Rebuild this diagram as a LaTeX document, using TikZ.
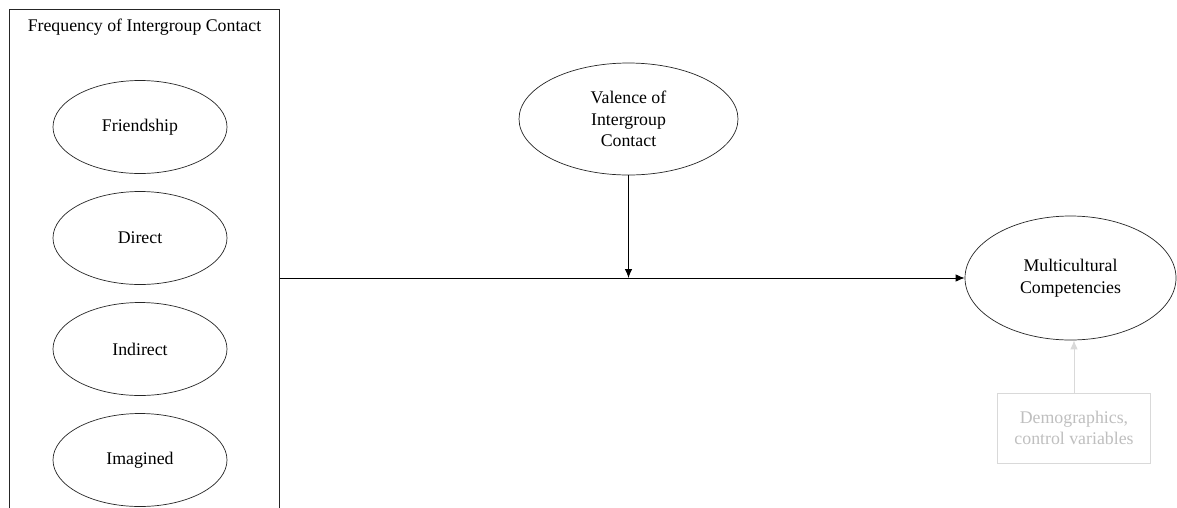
\documentclass[tikz,border=0pt]{standalone}
\usepackage{fontspec}
\setmainfont{Liberation Serif}
\usetikzlibrary{shapes.geometric,arrows.meta}
\definecolor{ink}{HTML}{262626}
\definecolor{faint}{HTML}{D9D9D9}
\definecolor{fainttext}{HTML}{BFBFBF}
\begin{document}
\begin{tikzpicture}[x=1pt,y=-1pt,
  every node/.style={font=\fontsize{17.8}{21.5}\selectfont, align=center, inner sep=0pt},
  oval/.style={ellipse, draw=ink, line width=0.7pt},
  group/.style={rectangle, draw=ink, line width=1pt},
  link/.style={draw=black, line width=0.9pt, -{Latex[length=9pt,width=7.5pt]}},
  softlink/.style={draw=faint, line width=0.9pt, -{Latex[length=9pt,width=7.5pt]}},
  softbox/.style={rectangle, draw=faint, line width=0.9pt, text=fainttext}]
  \clip (0,0) rectangle (1177,507);
  \fill[white] (0,0) rectangle (1177,507);

  % frequency group (open at the bottom of the page)
  \node[group, minimum width=270, minimum height=538] (freq) at (144,278) {};
  \node (freqlabel) at (144.5,27) {Frequency of Intergroup Contact};

  \node[oval, minimum width=174, minimum height=93] (friend) at (140,127) {Friendship};
  \node[oval, minimum width=174, minimum height=93] (direct) at (140,238) {Direct};
  \node[oval, minimum width=174, minimum height=93] (indirect) at (140,349) {Indirect};
  \node[oval, minimum width=174, minimum height=93] (imagined) at (140,460) {Imagined};

  % moderator
  \node[oval, minimum width=219, minimum height=112] (valence) at (628.5,119) {Valence of\\Intergroup\\Contact};

  % outcome
  \node[oval, minimum width=211, minimum height=124] (multi) at (1070.5,278) {Multicultural\\Competencies};

  % controls
  \node[softbox, minimum width=153, minimum height=70] (demo) at (1074,428) {Demographics,\\control variables};

  \coordinate (junction) at (valence.south |- multi.west);

  \draw[link] (freq.east) -- (multi.west);
  \draw[link] (valence.south) -- (junction);
  \draw[softlink] (demo.north) -- (demo.north |- multi.south);
\end{tikzpicture}
\end{document}
